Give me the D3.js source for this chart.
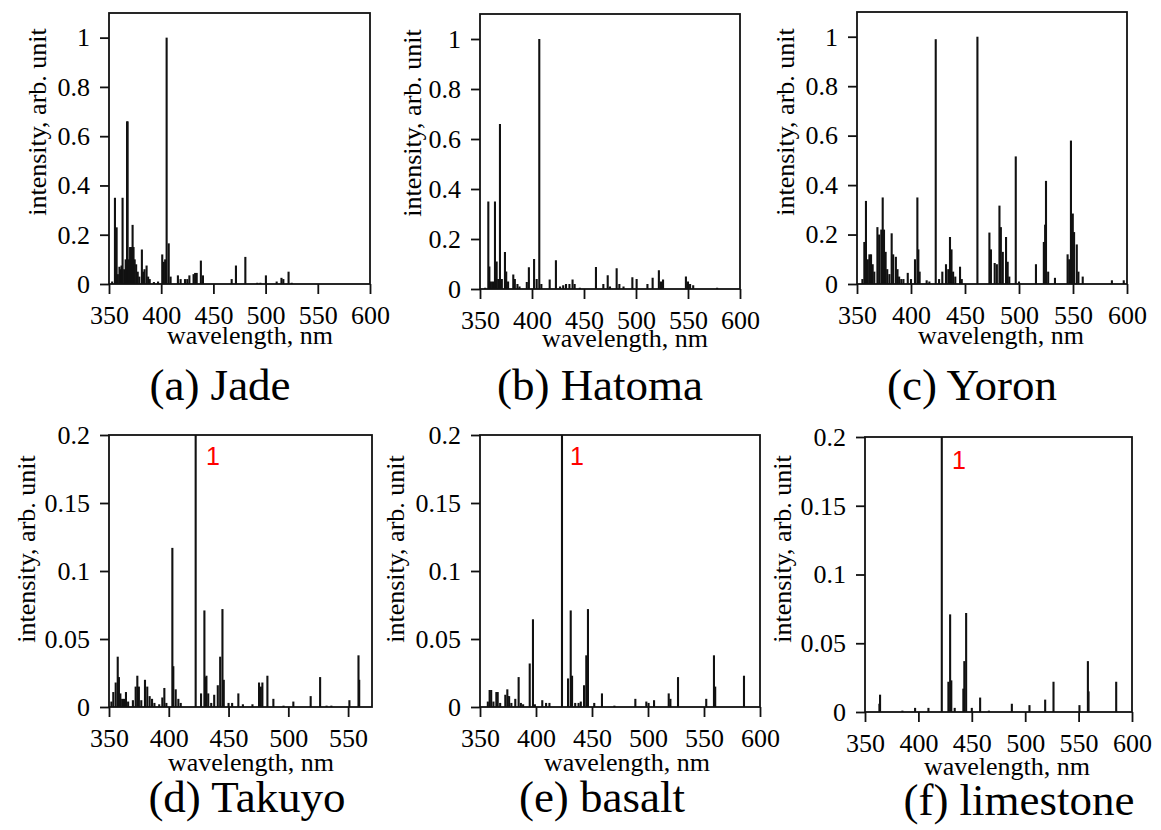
<!DOCTYPE html>
<html>
<head>
<meta charset="utf-8">
<script src="https://cdn.jsdelivr.net/npm/d3@7"></script>
<style>
  html, body { margin: 0; padding: 0; background: #fff; }
  svg { display: block; }
  svg text { font-family: "Liberation Serif", "Tinos", "Times New Roman", "DejaVu Serif", serif; fill: #000; }
  svg text.mark1 { font-family: "Liberation Sans", Arimo, Arial, sans-serif; fill: #ff0000; }
</style>
</head>
<body>
<svg id="fig" width="1161" height="830"></svg>
<script>
// Emission line spectra: [wavelength (nm), normalised intensity]
const jade = [
  [353, 0.01], [355.7, 0.35], [357.3, 0.23], [358.5, 0.04], [360, 0.07], [361.2, 0.06],
  [362, 0.075], [363, 0.35], [364.5, 0.06], [366, 0.1], [367.3, 0.66], [367.8, 0.66],
  [369, 0.1], [370.2, 0.15], [371.2, 0.15], [372.6, 0.24], [373.5, 0.15], [374.6, 0.1],
  [376, 0.08], [377.5, 0.05], [379, 0.03], [381.5, 0.14], [382.7, 0.05], [384, 0.06],
  [386, 0.075], [387.5, 0.03], [389, 0.02], [393, 0.008], [397, 0.01], [401, 0.12],
  [402.5, 0.09], [403.8, 0.1], [405.2, 1.0], [407.2, 0.165], [409, 0.03], [416, 0.035],
  [418.6, 0.02], [422.8, 0.02], [425, 0.02], [427, 0.035], [431, 0.04], [432.5, 0.045],
  [434, 0.045], [438, 0.095], [440, 0.035], [467.5, 0.02], [471.6, 0.075], [480.6, 0.11],
  [492, 0.005], [495, 0.005], [500.3, 0.035], [510.6, 0.01], [515.2, 0.025], [517, 0.02],
  [522, 0.05], [525, 0.005]
];
const hatoma = [
  [355, 0.005], [358, 0.35], [359, 0.09], [360.5, 0.03], [362.5, 0.03], [364.4, 0.35],
  [366, 0.11], [367.5, 0.04], [369.2, 0.66], [371, 0.04], [374, 0.148], [375.2, 0.07],
  [377, 0.03], [382, 0.058], [383.5, 0.04], [386, 0.02], [388, 0.01], [395, 0.028],
  [397, 0.087], [402, 0.12], [404.5, 0.04], [407, 1.0], [409, 0.02], [417, 0.038],
  [423, 0.115], [427, 0.01], [430, 0.015], [432.7, 0.02], [436, 0.02], [439, 0.038],
  [441, 0.02], [446, 0.005], [461.5, 0.088], [468.6, 0.02], [472.8, 0.055], [475, 0.01],
  [481.4, 0.083], [484, 0.02], [488, 0.01], [496.5, 0.047], [500.6, 0.04], [511, 0.02],
  [516, 0.045], [522, 0.075], [524, 0.03], [526, 0.038], [548, 0.05], [550, 0.03],
  [552, 0.02], [555, 0.015], [578, 0.005]
];
const yoron = [
  [355, 0.02], [356.8, 0.17], [358.3, 0.336], [360, 0.1], [361.5, 0.12], [363, 0.12],
  [364.5, 0.08], [366, 0.05], [368.9, 0.23], [370.5, 0.2], [372.5, 0.22], [373.8, 0.35],
  [375, 0.22], [376.5, 0.13], [378, 0.06], [380, 0.04], [382.1, 0.205], [383.5, 0.12],
  [386, 0.11], [387.5, 0.06], [389, 0.03], [391, 0.02], [393, 0.02], [397, 0.045],
  [400, 0.02], [403.7, 0.1], [405.9, 0.35], [406.8, 0.14], [408, 0.05], [414.5, 0.015],
  [417, 0.01], [422.9, 0.99], [426, 0.02], [429, 0.05], [432.4, 0.08], [434.5, 0.06],
  [436.1, 0.19], [437.5, 0.14], [439, 0.05], [441, 0.03], [445.4, 0.07], [447, 0.02],
  [461.5, 1.0], [472.6, 0.208], [474, 0.14], [477.5, 0.085], [479.5, 0.08], [481.9, 0.317],
  [483.2, 0.23], [485, 0.13], [488, 0.19], [489.5, 0.09], [491, 0.03], [497, 0.516],
  [500, 0.01], [515.7, 0.08], [523, 0.17], [524.2, 0.24], [525, 0.417], [527, 0.05],
  [533.3, 0.025], [545, 0.12], [546.5, 0.1], [548.1, 0.58], [549.8, 0.285], [551, 0.21],
  [553.5, 0.16], [555, 0.05], [559, 0.03], [586, 0.015], [597, 0.015]
];
const takuyo = [
  [352, 0.004], [353.6, 0.011], [355.6, 0.018], [357.3, 0.037], [358.3, 0.022], [359.5, 0.01],
  [361, 0.006], [362.5, 0.006], [364.2, 0.011], [366, 0.004], [370, 0.005], [372.3, 0.015],
  [373.7, 0.023], [375, 0.015], [377, 0.005], [380.1, 0.02], [382, 0.015], [384, 0.008],
  [386, 0.006], [388, 0.003], [392, 0.002], [394.6, 0.007], [396.3, 0.014], [398, 0.003],
  [403, 0.117], [403.8, 0.03], [405.8, 0.013], [408, 0.006], [410, 0.003], [422.5, 1],
  [427, 0.01], [429.8, 0.071], [430.5, 0.022], [431.5, 0.023], [433, 0.01], [435.5, 0.003],
  [438, 0.009], [441, 0.016], [443, 0.037], [444.9, 0.072], [446, 0.02], [450, 0.003],
  [453, 0.003], [458.2, 0.01], [462, 0.002], [470, 0.002], [475.5, 0.018], [477, 0.015],
  [478.3, 0.018], [482.5, 0.023], [487.5, 0.006], [496, 0.001], [504.2, 0.004], [518.7, 0.008],
  [526.6, 0.022], [532, 0.001], [536, 0.001], [551.1, 0.005], [558.7, 0.038], [559.3, 0.02]
];
const basalt = [
  [357, 0.004], [358.6, 0.0125], [360, 0.0125], [362, 0.004], [364.6, 0.011], [365.8, 0.011],
  [368, 0.003], [372.6, 0.009], [374.4, 0.013], [376, 0.008], [378, 0.003], [381.5, 0.006],
  [384.5, 0.022], [386.5, 0.003], [388.5, 0.002], [394.4, 0.032], [397.3, 0.0645], [399, 0.002],
  [405.6, 0.005], [409, 0.003], [412, 0.003], [423.2, 1], [428.6, 0.021], [431, 0.071],
  [432.2, 0.023], [435, 0.003], [438, 0.003], [440, 0.004], [442.9, 0.016], [444.9, 0.038],
  [446.4, 0.072], [452, 0.003], [458.9, 0.01], [470, 0.001], [488.7, 0.006], [498.5, 0.004],
  [500.5, 0.003], [505.4, 0.005], [518.5, 0.01], [520, 0.006], [526.8, 0.022], [552, 0.006],
  [558.9, 0.038], [560, 0.015], [585.7, 0.023]
];
const limestone = [
  [363.5, 0.006], [364.1, 0.0126], [385, 0.001], [396.9, 0.003], [409.4, 0.003], [421.9, 1],
  [428.1, 0.022], [429.7, 0.071], [430.8, 0.023], [434, 0.003], [442.1, 0.017], [443, 0.037],
  [444.7, 0.072], [450, 0.003], [457.8, 0.0105], [466, 0.001], [487.5, 0.006], [504, 0.005],
  [518.7, 0.009], [526.5, 0.022], [550.8, 0.005], [558.7, 0.037], [559.3, 0.015], [585.2, 0.022]
];

// Axis ticks and labels
const xTicksWide = [350, 400, 450, 500, 550, 600];
const xTicksNarrow = [350, 400, 450, 500, 550];
const yTicksFull = [0, 0.2, 0.4, 0.6, 0.8, 1];
const yTicksZoom = [0, 0.05, 0.1, 0.15, 0.2];
const panelTitles = ["(a) Jade", "(b) Hatoma", "(c) Yoron", "(d) Takuyo", "(e) basalt", "(f) limestone"];
const xAxisTitle = "wavelength, nm";
const yAxisTitle = "intensity, arb. unit";
const offScaleLabel = "1";

// Panel geometry
const panels = [
  { data: jade,      box: [109, 13, 370, 284],  xDom: [350, 600], xTicks: xTicksWide,   yDom: [0, 1.1], yTicks: yTicksFull,
    yl: [46, 122],  xl: [250, 344],  tt: [220, 400] },
  { data: hatoma,    box: [480, 14, 740, 289],  xDom: [350, 600], xTicks: xTicksWide,   yDom: [0, 1.1], yTicks: yTicksFull,
    yl: [421, 123], xl: [625, 347],  tt: [600, 400] },
  { data: yoron,     box: [857, 12, 1127, 284], xDom: [350, 600], xTicks: xTicksWide,   yDom: [0, 1.1], yTicks: yTicksFull,
    yl: [794, 122], xl: [1001, 344], tt: [972, 400] },
  { data: takuyo,    box: [109, 435, 372, 707], xDom: [350, 570], xTicks: xTicksNarrow, yDom: [0, 0.2], yTicks: yTicksZoom,
    yl: [35, 549],  xl: [251, 771],  tt: [247, 812], mark: [213, 465] },
  { data: basalt,    box: [480, 435, 760, 707], xDom: [350, 600], xTicks: xTicksWide,   yDom: [0, 0.2], yTicks: yTicksZoom,
    yl: [404, 549], xl: [627, 771],  tt: [602, 812], mark: [577, 465] },
  { data: limestone, box: [865, 437, 1132, 712], xDom: [350, 600], xTicks: xTicksWide,  yDom: [0, 0.2], yTicks: yTicksZoom,
    yl: [791, 549], xl: [1007, 775], tt: [1019, 815], mark: [959, 469] }
];

const svg = d3.select("#fig");
svg.append("rect").attr("width", 1161).attr("height", 830).attr("fill", "#fff");

const fmt = d3.format("~g");

panels.forEach((p, i) => {
  const [x0, y0, x1, y1] = p.box;
  const x = d3.scaleLinear().domain(p.xDom).range([x0, x1]);
  const y = d3.scaleLinear().domain(p.yDom).range([y1, y0]).clamp(true);
  const g = svg.append("g");

  // spectral lines
  g.append("g").selectAll("line").data(p.data).join("line")
    .attr("x1", d => x(d[0])).attr("x2", d => x(d[0]))
    .attr("y1", y(0)).attr("y2", d => y(d[1]))
    .attr("stroke", "#111").attr("stroke-width", 2.1);

  // axes
  const ax = g.append("g").attr("transform", `translate(0,${y1})`)
    .call(d3.axisBottom(x).tickValues(p.xTicks).tickFormat(fmt).tickSize(10).tickPadding(12));
  const ay = g.append("g").attr("transform", `translate(${x0},0)`)
    .call(d3.axisLeft(y).tickValues(p.yTicks).tickFormat(fmt).tickSize(9).tickPadding(10));
  [ax, ay].forEach(a => {
    a.attr("font-family", null).attr("font-size", null);
    a.select(".domain").remove();
    a.selectAll(".tick line").attr("stroke", "#111").attr("stroke-width", 1.8);
    a.selectAll(".tick text").attr("fill", null).style("font-size", "26px");
  });

  // frame
  g.append("rect").attr("x", x0).attr("y", y0).attr("width", x1 - x0).attr("height", y1 - y0)
    .attr("fill", "none").attr("stroke", "#111").attr("stroke-width", 1.8);

  // axis titles
  g.append("text").attr("transform", `translate(${p.yl[0]},${p.yl[1]}) rotate(-90)`)
    .attr("text-anchor", "middle").style("font-size", "26px").text(yAxisTitle);
  g.append("text").attr("x", p.xl[0]).attr("y", p.xl[1])
    .attr("text-anchor", "middle").style("font-size", "26px").text(xAxisTitle);

  // panel caption
  g.append("text").attr("x", p.tt[0]).attr("y", p.tt[1])
    .attr("text-anchor", "middle").style("font-size", "45px").text(panelTitles[i]);

  // marker for the off-scale line
  if (p.mark) {
    g.append("text").attr("class", "mark1").attr("x", p.mark[0]).attr("y", p.mark[1])
      .attr("text-anchor", "middle").style("font-size", "25px")
      .text(offScaleLabel);
  }
});
</script>
</body>
</html>
